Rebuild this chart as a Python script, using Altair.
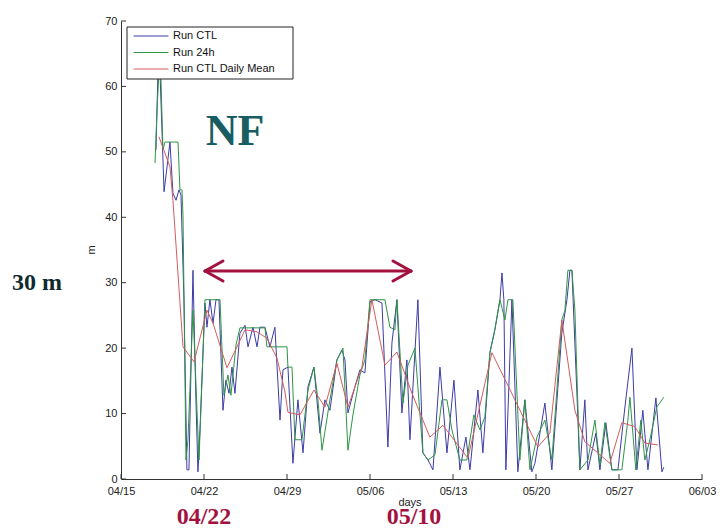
import altair as alt
import pandas as pd

# ---------------- data (days after 04/15, water level in m) ----------------
ctl_day = [2.95, 3.12, 3.29, 3.63, 3.88, 4.13, 4.38, 4.64, 4.89, 5.06,
           5.31, 5.56, 5.73, 6.07, 6.32, 6.49, 6.66, 7.08, 7.25, 7.50,
           7.76, 8.01, 8.26, 8.60, 8.85, 9.11, 9.36, 9.61, 10.03, 10.46,
           10.71, 11.13, 11.47, 11.72, 12.14, 12.56, 12.98, 13.41, 13.66, 14.08,
           14.50, 14.92, 15.35, 15.77, 16.27, 16.78, 17.20, 17.62, 18.21, 18.63,
           18.89, 19.14, 19.73, 20.15, 20.57, 21.00, 21.42, 22.01, 22.51, 22.85,
           23.27, 23.69, 24.11, 24.37, 25.04, 25.46, 25.89, 26.31, 26.90, 27.49,
           28.08, 28.58, 29.09, 29.43, 30.10, 30.52, 31.11, 31.53, 31.96, 32.13,
           32.29, 32.46, 32.97, 33.47, 34.06, 34.65, 34.91, 35.75, 36.34, 37.18,
           37.61, 37.86, 38.03, 38.45, 38.70, 39.12, 39.38, 40.05, 40.39, 40.89,
           41.40, 41.91, 42.50, 43.09, 43.51, 44.01, 44.44, 45.11, 45.62, 45.78]
ctl_val = [50.3, 62.5, 62.2, 43.9, 47.7, 51.5, 43.7, 42.6, 44.2, 43.4,
           27.4, 1.4, 1.4, 31.9, 12.1, 1.1, 7.5, 26.9, 23.2, 27.4,
           23.8, 27.4, 27.4, 10.5, 15.1, 13.1, 17.1, 13.1, 22.3, 23.5,
           20.2, 23.2, 20.2, 23.2, 23.2, 20.2, 23.2, 9.0, 16.7, 17.1,
           2.4, 12.1, 4.0, 14.1, 17.1, 7.0, 12.1, 10.5, 18.2, 19.7,
           18.2, 10.1, 14.1, 16.7, 16.2, 27.1, 27.4, 26.9, 4.9, 20.8,
           27.4, 10.1, 18.2, 6.0, 27.4, 4.0, 2.9, 1.4, 17.1, 4.0,
           15.1, 1.4, 6.4, 1.4, 13.6, 4.0, 19.3, 22.8, 27.4, 31.5,
           27.4, 1.4, 27.4, 1.1, 12.1, 1.1, 2.4, 11.6, 1.4, 22.3,
           27.4, 31.9, 31.9, 13.1, 1.4, 12.1, 1.4, 7.0, 1.4, 8.6,
           1.4, 1.4, 11.0, 20.0, 1.4, 10.5, 1.4, 12.4, 1.1, 1.8]

h24_day = [2.87, 3.04, 3.20, 3.37, 3.54, 3.71, 4.81, 4.97, 5.14, 5.23,
           5.48, 5.65, 6.07, 6.58, 7.08, 8.35, 8.68, 9.02, 9.27, 9.70,
           10.03, 12.14, 12.31, 14.00, 14.08, 14.42, 14.67, 15.26, 15.77, 16.27,
           16.61, 16.95, 17.62, 18.21, 18.72, 19.14, 19.56, 20.15, 20.57, 21.00,
           22.26, 22.68, 23.10, 23.27, 23.78, 24.20, 24.79, 25.46, 25.89, 26.48,
           27.07, 27.49, 27.91, 28.58, 29.17, 29.76, 30.27, 30.69, 31.11, 31.53,
           31.96, 32.38, 32.63, 33.05, 33.64, 34.06, 34.49, 35.08, 35.75, 36.34,
           37.18, 37.44, 37.69, 38.03, 38.28, 38.70, 39.38, 39.97, 40.39, 40.81,
           41.40, 42.24, 42.75, 42.92, 43.42, 43.84, 44.18, 44.60, 45.19, 45.78]
h24_val = [48.3, 56.4, 62.2, 61.0, 50.3, 51.5, 51.5, 44.2, 44.2, 40.3,
           2.9, 6.0, 25.8, 2.9, 27.4, 27.4, 12.8, 15.9, 12.8, 20.5,
           23.1, 23.1, 20.2, 20.2, 17.1, 17.1, 6.0, 6.0, 13.6, 17.1,
           12.1, 4.4, 12.1, 18.2, 20.0, 4.4, 9.8, 15.9, 18.2, 27.4,
           27.4, 23.2, 22.8, 27.4, 11.6, 17.4, 20.0, 4.0, 2.9, 3.7,
           12.1, 12.1, 7.5, 2.9, 2.9, 9.8, 7.5, 9.5, 19.3, 22.8,
           27.4, 24.3, 27.4, 27.4, 2.9, 12.1, 1.4, 6.4, 9.0, 2.9,
           24.3, 25.8, 31.9, 31.9, 25.8, 1.4, 2.9, 9.0, 2.1, 8.6,
           1.4, 1.4, 9.0, 12.5, 1.4, 9.0, 2.9, 6.0, 11.0, 12.5]

mean_day = [3.20, 4.13, 4.38, 5.23, 6.16, 7.25, 7.76, 8.94, 10.46, 11.47,
            12.31, 13.15, 13.83, 14.08, 15.09, 16.27, 17.20, 18.21, 19.14, 20.32,
            21.16, 22.26, 23.27, 24.54, 26.05, 27.15, 29.26, 31.28, 33.22, 35.16,
            36.17, 37.18, 38.28, 39.12, 41.23, 42.24, 43.34, 44.18, 45.28]
mean_val = [52.3, 47.7, 42.6, 20.2, 17.9, 25.8, 23.8, 17.0, 22.8, 22.5,
            21.5, 18.5, 13.3, 10.2, 9.8, 13.6, 11.0, 17.7, 11.0, 17.1,
            27.4, 17.4, 19.4, 13.1, 6.4, 8.2, 3.2, 19.3, 12.1, 4.9,
            7.0, 24.3, 10.5, 5.7, 2.4, 8.6, 8.0, 5.5, 5.2]

series_names = ["Run CTL", "Run 24h", "Run CTL Daily Mean"]
series_colors = ["#3c3ca8", "#2f9445", "#d45c5c"]
week_labels = ["04/15", "04/22", "04/29", "05/06", "05/13", "05/20", "05/27", "06/03"]
y_ticks = [0, 10, 20, 30, 40, 50, 60, 70]
YEAR = 2010

# ---------------- build tables ----------------
base = pd.Timestamp(f"{YEAR}-04-15")


def to_iso(days):
    return [(base + pd.Timedelta(days=d)).strftime("%Y-%m-%dT%H:%M:%S") for d in days]


def frame(days, vals, name):
    return pd.DataFrame({"t": to_iso(days), "v": vals, "s": name})


df_ctl = frame(ctl_day, ctl_val, series_names[0])
df_24 = frame(h24_day, h24_val, series_names[1])
df_mean = frame(mean_day, mean_val, series_names[2])

week_dt = []
for lab in week_labels:
    m, d = lab.split("/")
    week_dt.append(alt.DateTime(year=YEAR, month=int(m), date=int(d)))
week_iso = [f"{YEAR}-{lab.replace('/', '-')}T00:00:00" for lab in week_labels]

FONT = "Liberation Sans"
W, H = 581, 458

xscale = alt.Scale(domain=[week_dt[0], week_dt[-1]], nice=False)
yscale = alt.Scale(domain=[0, 70], nice=False)
xaxis = alt.Axis(values=week_dt, format="%m/%d", ticks=False, grid=False,
                 labelFontSize=11, labelFont=FONT, labelColor="#222",
                 labelPadding=6, domainColor="#333", title=None, labelFlush=False)
yaxis = alt.Axis(values=y_ticks, ticks=False, grid=False,
                 labelFontSize=11, labelFont=FONT, labelColor="#222",
                 labelPadding=4, domainColor="#333", title=None)

X = alt.X("t:T", scale=xscale, axis=xaxis)
Y = alt.Y("v:Q", scale=yscale, axis=yaxis)


def line_layer(df, color):
    return alt.Chart(df).mark_line(strokeWidth=1, color=color).encode(x=X, y=Y)


layers = [
    line_layer(df_ctl, series_colors[0]),
    line_layer(df_24, series_colors[1]),
    line_layer(df_mean, series_colors[2]),
]

# inward ticks (MATLAB style)
layers.append(
    alt.Chart(pd.DataFrame({"t": week_iso})).mark_rule(color="#333", strokeWidth=1)
    .encode(x=X, y=alt.value(H), y2=alt.value(H - 5))
)
layers.append(
    alt.Chart(pd.DataFrame({"v": y_ticks})).mark_rule(color="#333", strokeWidth=1)
    .encode(y=Y, x=alt.value(0), x2=alt.value(5))
)

one = alt.Data(values=[{}])


def txt(text, x, y, **kw):
    return alt.Chart(one).mark_text(text=text, **kw).encode(x=alt.value(x), y=alt.value(y))


def seg(x1, y1, x2, y2, color, width):
    return alt.Chart(one).mark_rule(color=color, strokeWidth=width, strokeCap="round").encode(
        x=alt.value(x1), y=alt.value(y1), x2=alt.value(x2), y2=alt.value(y2))


# legend box
layers.append(
    alt.Chart(one).mark_rect(fill="white", stroke="#222", strokeWidth=1).encode(
        x=alt.value(6), x2=alt.value(172), y=alt.value(6), y2=alt.value(58))
)
for i, (nm, col) in enumerate(zip(series_names, series_colors)):
    yy = 15 + i * 16.5
    layers.append(seg(13, yy, 47, yy, col, 1))
    layers.append(txt(nm, 52, yy, align="left", baseline="middle", fontSize=11,
                      font=FONT, color="#111"))

# axis titles
layers.append(txt("m", -29, 229, angle=270, align="center", baseline="middle",
                  fontSize=11, font=FONT, color="#222"))
layers.append(txt("days", 289, 485, align="center", baseline="alphabetic",
                  fontSize=11, font=FONT, color="#222"))

# annotations
RED = "#a3123e"
layers.append(txt("NF", 114, 124, align="center", baseline="alphabetic", fontSize=44,
                  font="Liberation Serif", fontWeight="bold", color="#175d62"))
layers.append(txt("30 m", -84, 269, align="center", baseline="alphabetic", fontSize=24,
                  font="Liberation Serif", fontWeight="bold", color="#0f2a2d"))
layers.append(txt("04/22", 83, 503, align="center", baseline="alphabetic", fontSize=24,
                  font="Liberation Serif", fontWeight="bold", color=RED))
layers.append(txt("05/10", 293, 503, align="center", baseline="alphabetic", fontSize=24,
                  font="Liberation Serif", fontWeight="bold", color=RED))

# double arrow
AY = 250
layers.append(seg(84, AY, 290, AY, RED, 3))
layers.append(seg(84, AY, 102, AY - 10, RED, 3))
layers.append(seg(84, AY, 102, AY + 10, RED, 3))
layers.append(seg(290, AY, 272, AY - 10, RED, 3))
layers.append(seg(290, AY, 272, AY + 10, RED, 3))

chart = alt.layer(*layers).properties(
    width=W, height=H,
    autosize=alt.AutoSizeParams(type="none"),
    padding={"left": 121, "top": 21, "right": 18, "bottom": 49},
    background="white",
).configure_view(stroke=None)

chart.save("out.html", embed_options={"renderer": "svg", "actions": False})
